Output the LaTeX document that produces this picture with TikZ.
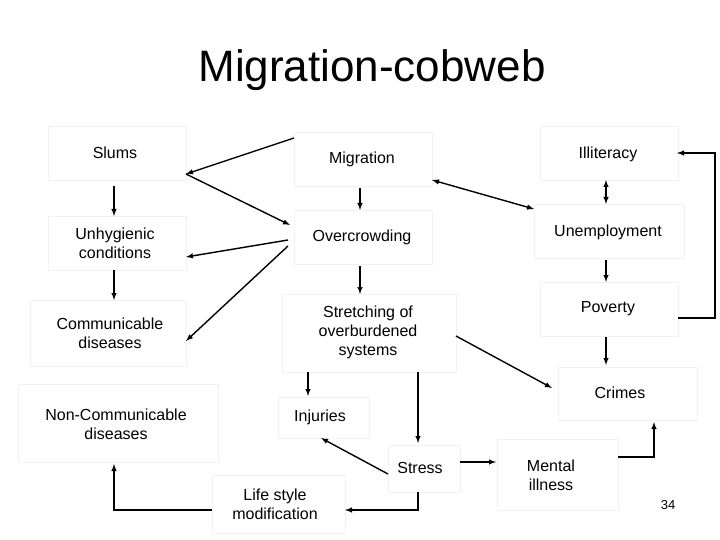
\documentclass[tikz,border=0pt]{standalone}
\usepackage{fontspec}
\setmainfont{Liberation Sans}
\begin{document}
\begin{tikzpicture}[x=1pt,y=-1pt,
  bx/.style={draw=black!5,line width=0.6pt},
  lbl/.style={font=\fontsize{16}{19}\selectfont,align=center,inner sep=0pt},
  ar/.style={-latex,line width=1.4pt},
  dar/.style={latex-latex,line width=1.4pt}]
\useasboundingbox (0,0) rectangle (720,540);
\node[font=\fontsize{44}{50}\selectfont] (title) at (372,70) {Migration-cobweb};
% boxes
\draw[bx] (48,126) rectangle (186,180);
\draw[bx] (48,216) rectangle (186,270);
\draw[bx] (30,300) rectangle (186,366);
\draw[bx] (18,384) rectangle (218,462);
\draw[bx] (294,132) rectangle (432,186);
\draw[bx] (294,210) rectangle (432,264);
\draw[bx] (282,294) rectangle (456,372);
\draw[bx] (540,126) rectangle (678,180);
\draw[bx] (534,204) rectangle (684,258);
\draw[bx] (540,282) rectangle (678,336);
\draw[bx] (558,367) rectangle (697,420);
\draw[bx] (278,397) rectangle (369,438);
\draw[bx] (388,445) rectangle (460,492);
\draw[bx] (212,475) rectangle (345,533);
\draw[bx] (497,439) rectangle (618,510);
% labels
\node[lbl] (slums) at (115,153) {Slums};
\node[lbl] (unhyg) at (115,243) {Unhygienic\\conditions};
\node[lbl] (comm) at (110,333) {Communicable\\diseases};
\node[lbl] (noncomm) at (116,424) {Non-Communicable\\diseases};
\node[lbl] (migr) at (362,159) {Migration};
\node[lbl] (over) at (362,237) {Overcrowding};
\node[lbl] (stretch) at (368,332) {Stretching of\\overburdened\\systems};
\node[lbl] (illit) at (608,154) {Illiteracy};
\node[lbl] (unemp) at (608,232) {Unemployment};
\node[lbl] (pov) at (608,309) {Poverty};
\node[lbl] (crimes) at (620,393) {Crimes};
\node[lbl] (inj) at (320,417) {Injuries};
\node[lbl] (stress) at (420,468) {Stress};
\node[lbl] (life) at (275,504) {Life style\\modification};
\node[lbl] (mental) at (551,475) {Mental\\illness};
\node[font=\fontsize{13}{15}\selectfont] (pg) at (668,505) {34};
% connectors
\coordinate (mA) at (294,138);
\coordinate (sA) at (186,174);
\coordinate (oA) at (290,225);
\coordinate (oB) at (288,240);
\coordinate (oC) at (288,246);
\draw[ar] (mA) -- (sA);
\draw[ar] (sA) -- (oA);
\draw[ar] (oB) -- (186,257);
\draw[ar] (oC) -- (186,341);
\draw[ar] (114,186) -- (114,216);
\draw[ar] (114,270) -- (114,300);
\draw[ar] (360,188) -- (360,210);
\draw[ar] (360,266) -- (360,294);
\draw[dar] (432,180) -- (534,209);
\draw[dar] (606,180) -- (606,204);
\draw[ar] (606,260) -- (606,282);
\draw[ar] (606,337) -- (606,365);
\draw[ar] (678,318) -- (715,318) -- (715,153) -- (677,153);
\draw[ar] (456,336) -- (552,388);
\draw[ar] (308,372) -- (308,396);
\draw[ar] (418,372) -- (418,443);
\draw[ar] (388,474) -- (321,438);
\draw[ar] (460,462) -- (496,462);
\draw[ar] (418,492) -- (418,510) -- (345,510);
\draw[ar] (212,510) -- (114,510) -- (114,464);
\draw[ar] (618,457) -- (654,457) -- (654,422);
\end{tikzpicture}
\end{document}
